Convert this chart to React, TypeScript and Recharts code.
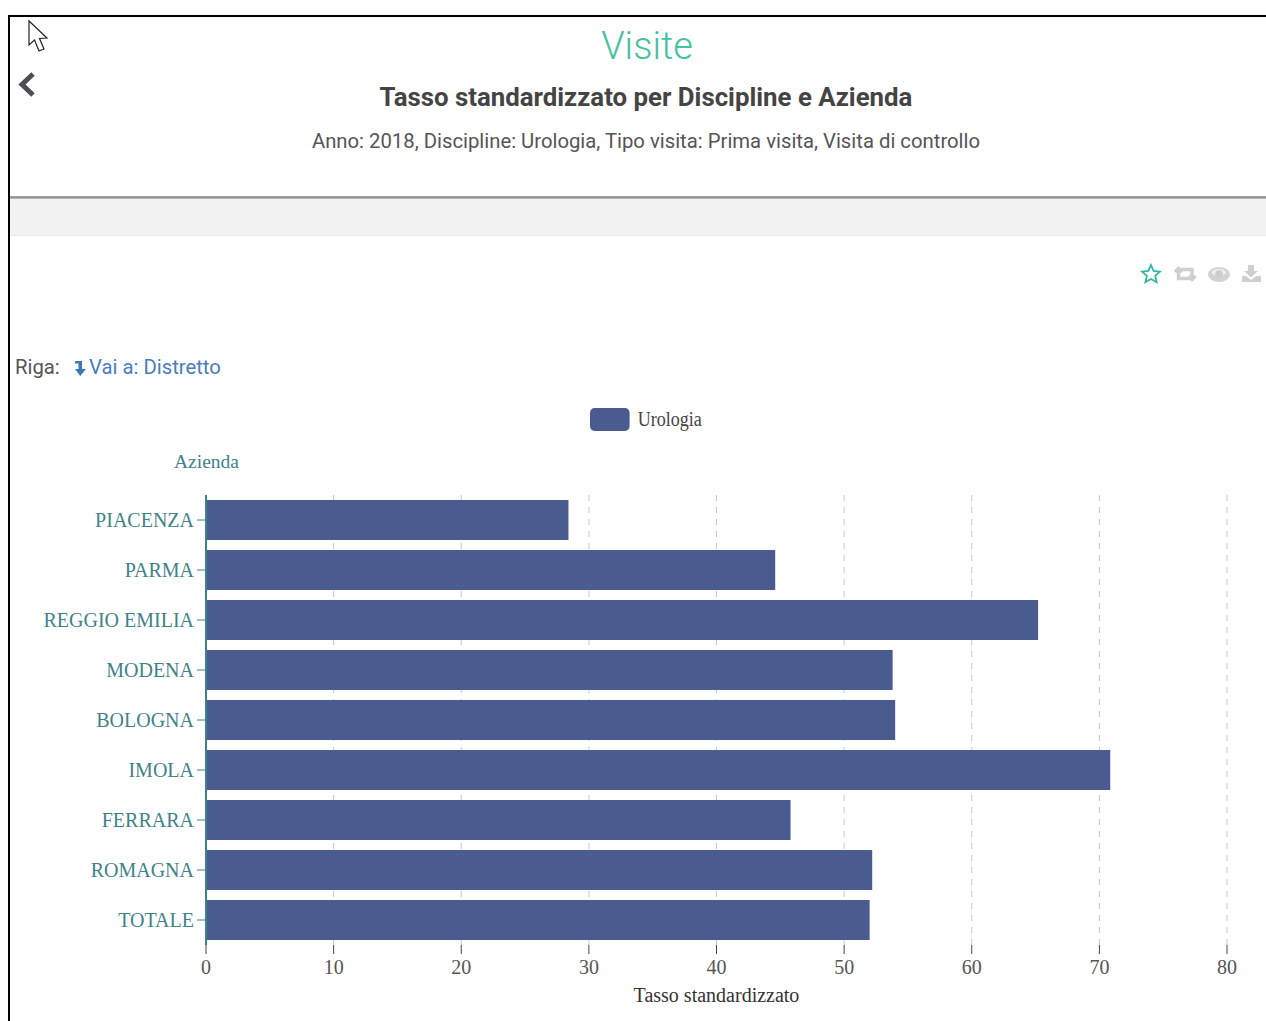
import React from 'react';
import { BarChart, Bar, XAxis, YAxis, CartesianGrid, Legend } from 'recharts';

const aziende = ['PIACENZA', 'PARMA', 'REGGIO EMILIA', 'MODENA', 'BOLOGNA', 'IMOLA', 'FERRARA', 'ROMAGNA', 'TOTALE'];
const urologia = [28.4, 44.6, 65.2, 53.8, 54.0, 70.85, 45.8, 52.2, 52.0];
const xTicks = [0, 10, 20, 30, 40, 50, 60, 70, 80];
const rows = aziende.map((azienda, i) => ({ azienda, Urologia: urologia[i] }));

const serif = '"Liberation Serif", serif';
const sans = 'Roboto, sans-serif';
const teal = '#3f8389';
const barColor = '#4a5b90';

const abs = (s: React.CSSProperties): React.CSSProperties => ({ position: 'absolute', whiteSpace: 'nowrap', ...s });

const LegendBox = () => (
  <div style={{ display: 'flex', alignItems: 'center', fontFamily: serif, fontSize: 20, color: '#444', transform: 'scaleX(0.9)', transformOrigin: 'left center' }}>
    <span style={{ display: 'inline-block', width: 44, height: 23, borderRadius: 5, background: barColor, marginRight: 9 }} />
    Urologia
  </div>
);

const Icons = () => (
  <svg style={{ position: 'absolute', left: 1130, top: 258 }} width="136" height="30" viewBox="0 0 136 30">
    <path d="M21 7 L23.6 12.9 L30 13.6 L25.2 17.9 L26.6 24.2 L21 21 L15.4 24.2 L16.8 17.9 L12 13.6 L18.4 12.9 Z" fill="none" stroke="#2fb8a5" strokeWidth="1.8" />
    <path d="M45 14 L48.5 10.5 L52 14 M48.5 12 V20.5 H60 M65.5 18 L62 21.5 L58.5 18 M62 20 V11.5 H51" fill="none" stroke="#cfcfcf" strokeWidth="3.4" />
    <ellipse cx="89" cy="16.5" rx="11" ry="7.5" fill="#d2d2d2" />
    <ellipse cx="89" cy="14.5" rx="7" ry="3.5" fill="#f0f0f0" />
    <circle cx="89" cy="16" r="3.8" fill="#cccccc" />
    <path d="M118 7 H124 V13 H128 L121 19.5 L114 13 H118 Z M112 18 H116 L121 22 L126 18 H131 V24 H112 Z" fill="#cfcfcf" />
  </svg>
);

export default function App() {
  return (
    <div style={{ position: 'absolute', left: 0, top: 0, width: 1266, height: 1021, overflow: 'hidden', background: '#fff' }}>
      <div style={abs({ left: 8, top: 15, width: 1258, height: 2, background: '#000' })} />
      <div style={abs({ left: 8, top: 15, width: 2, height: 1006, background: '#000' })} />
      <div style={abs({ left: 10, top: 198, width: 1256, height: 38, background: '#f2f2f2', borderBottom: '1px solid #eaeaea', boxSizing: 'border-box' })} />
      <div style={abs({ left: 10, top: 196, width: 1256, height: 3, background: 'linear-gradient(#a8a8a8, #8f8f8f 60%, #d0d0d0)' })} />

      <svg style={{ position: 'absolute', left: 26, top: 18 }} width="26" height="38" viewBox="0 0 26 38">
        <path d="M3 3 V27 L8.5 22 L13 33 L18 31 L13.5 20.5 L21 20 Z" fill="#fff" stroke="#222" strokeWidth="1.2" />
      </svg>
      <svg style={{ position: 'absolute', left: 17, top: 70 }} width="22" height="30" viewBox="0 0 22 30">
        <path d="M16 4 L5 14.5 L16 25" fill="none" stroke="#4b4f55" strokeWidth="5" />
      </svg>

      <div style={abs({ left: 0, width: 1294, top: 23, textAlign: 'center', fontFamily: sans, fontWeight: 300, fontSize: 38, lineHeight: '46px', color: '#45c2a0' })}>Visite</div>
      <div style={abs({ left: 0, width: 1292, top: 81, textAlign: 'center', fontFamily: sans, fontWeight: 700, fontSize: 25.8, lineHeight: '32px', color: '#444' })}>Tasso standardizzato per Discipline e Azienda</div>
      <div style={abs({ left: 0, width: 1292, top: 127, textAlign: 'center', fontFamily: sans, fontSize: 20.3, lineHeight: '28px', color: '#555' })}>Anno: 2018, Discipline: Urologia, Tipo visita: Prima visita, Visita di controllo</div>

      <Icons />

      <div style={abs({ left: 15, top: 353, fontFamily: sans, fontSize: 20.3, lineHeight: '28px', color: '#555' })}>Riga:</div>
      <svg style={{ position: 'absolute', left: 72, top: 358 }} width="16" height="20" viewBox="0 0 16 20">
        <path d="M3 3 H10 V11 H14 L8.2 18 L3 11 H6.5 V5.5 H3 Z" fill="#3a78b8" />
      </svg>
      <div style={abs({ left: 89, top: 353, fontFamily: sans, fontSize: 20.3, lineHeight: '28px', color: '#4a7cc0' })}>Vai a: Distretto</div>

      <div style={abs({ left: 0, top: 0 })}>
        <BarChart
          width={1266}
          height={1021}
          data={rows}
          layout="vertical"
          barCategoryGap={5}
          margin={{ top: 495, right: 39, bottom: 16, left: 0 }}
        >
          <CartesianGrid horizontal={false} vertical stroke="#c8c8c8" strokeDasharray="6 6" />
          <XAxis
            type="number"
            domain={[0, 80]}
            ticks={xTicks}
            interval={0}
            height={60}
            axisLine={false}
            tickLine={{ stroke: '#444' }}
            tickSize={9}
            tickMargin={6}
            tick={{ fontFamily: serif, fontSize: 20, fill: '#555' }}
            label={{ value: 'Tasso standardizzato', position: 'insideBottom', offset: 3, fontFamily: serif, fontSize: 20, fill: '#333' }}
          />
          <YAxis
            type="category"
            dataKey="azienda"
            width={206}
            interval={0}
            axisLine={{ stroke: teal, strokeWidth: 2 }}
            tickLine={{ stroke: teal }}
            tickSize={9}
            tickMargin={3}
            tick={{ fontFamily: serif, fontSize: 20, fill: teal }}
            label={{ value: 'Azienda', position: 'insideTopRight', dx: 38, dy: -46, fontFamily: serif, fontSize: 19.5, fill: teal }}
          />
          <Legend
            layout="horizontal"
            align="center"
            verticalAlign="middle"
            content={<LegendBox />}
            wrapperStyle={{ top: 408, left: 590, width: 160, height: 26, bottom: 'auto', right: 'auto' }}
          />
          <Bar dataKey="Urologia" fill={barColor} isAnimationActive={false} />
        </BarChart>
      </div>
    </div>
  );
}
